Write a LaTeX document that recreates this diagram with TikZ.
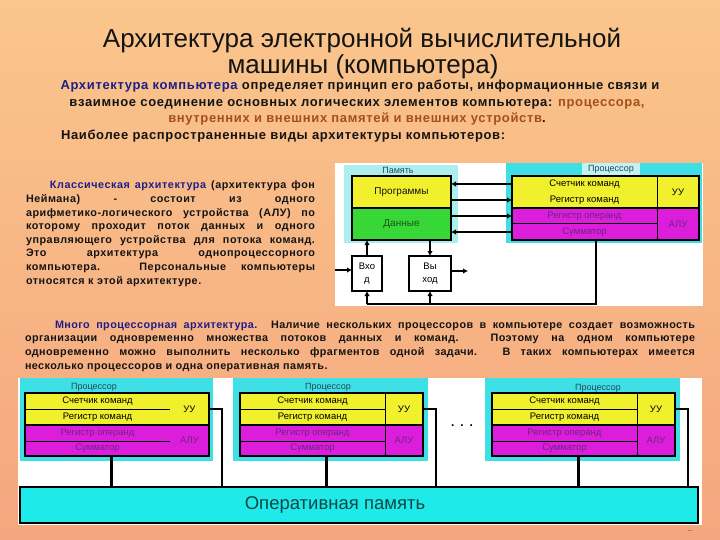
\documentclass[tikz,border=0pt]{standalone}
\usepackage{fontspec}
\setmainfont{Liberation Sans}
\usetikzlibrary{arrows.meta}
\definecolor{bgtop}{RGB}{250,198,140}
\definecolor{bgbot}{RGB}{245,166,126}
\definecolor{yellowC}{RGB}{240,240,45}
\definecolor{greenC}{RGB}{55,215,55}
\definecolor{magC}{RGB}{220,30,220}
\definecolor{cyanP}{RGB}{62,224,230}
\definecolor{cyanL}{RGB}{172,238,238}
\definecolor{cyanLbl}{RGB}{196,242,242}
\definecolor{busC}{RGB}{30,234,234}
\definecolor{purpT}{RGB}{105,40,125}
\definecolor{labelT}{RGB}{40,70,90}
\definecolor{blueT}{RGB}{30,30,135}
\definecolor{brownT}{RGB}{165,80,25}
\definecolor{darkT}{RGB}{20,20,20}
\definecolor{busT}{RGB}{16,70,70}
\definecolor{dataT}{RGB}{25,85,25}
\begin{document}
\begin{tikzpicture}[x=1pt,y=-1pt,
  every node/.style={inner sep=0pt, outer sep=0pt},
  cellbox/.style={anchor=north west, font=\fontsize{9.5}{11}\selectfont, text=black},
  ycell/.style={cellbox, fill=yellowC},
  mcell/.style={cellbox, fill=magC, text=purpT},
  frame/.style={anchor=north west, draw=black, line width=2.8pt},
  sframe/.style={anchor=north west, draw=black, line width=2.2pt},
  thinline/.style={line width=1pt},
  splitline/.style={line width=1.6pt},
  conn/.style={line width=2.2pt, draw=black},
  arrowend/.style={-{Latex[length=5pt,width=5.5pt]}},
  lbl/.style={font=\fontsize{9}{10}\selectfont, text=labelT},
  bodytext/.style={font=\bfseries\fontsize{10.8}{13.6}\selectfont\addfontfeatures{LetterSpace=5}, text=darkT},
  multitext/.style={font=\bfseries\fontsize{10.8}{13.7}\selectfont\addfontfeatures{LetterSpace=4}, text=darkT},
  subtext/.style={font=\bfseries\fontsize{13}{16}\selectfont\addfontfeatures{LetterSpace=5}, text=darkT},
  titletext/.style={font=\fontsize{26}{28}\selectfont, text=darkT}
]
\useasboundingbox (0,0) rectangle (720,540);
\shade[top color=bgtop, bottom color=bgbot] (0,0) rectangle (720,540);

% ---------- title and intro ----------
\node[anchor=base, titletext] (t1) at (362,48) {Архитектура электронной вычислительной};
\node[anchor=base, titletext] (t2) at (363,74) {машины (компьютера)};
\node[anchor=base, subtext] (s1) at (360,90) {\textcolor{blueT}{Архитектура компьютера} определяет принцип его работы, информационные связи и};
\node[anchor=base, subtext] (s2) at (357,107) {взаимное соединение основных логических элементов компьютера: \textcolor{brownT}{процессора,}};
\node[anchor=base, subtext] (s3) at (357,123) {\textcolor{brownT}{внутренних и внешних памятей и внешних устройств}.};
\node[anchor=base west, subtext] (s4) at (61,140) {Наиболее распространенные виды архитектуры компьютеров:};

% ---------- classic paragraph ----------
\node[anchor=base west, bodytext] (classic) at (26,189) {\parbox[t]{289pt}{\hyphenpenalty=10000\exhyphenpenalty=10000
\hspace*{24pt}\textcolor{blueT}{Классическая архитектура} (архитектура фон\linebreak
Неймана) - состоит из одного\linebreak
арифметико-логического устройства (АЛУ) по\linebreak
которому проходит поток данных и одного\linebreak
управляющего устройства для потока команд.\linebreak
Это архитектура однопроцессорного\linebreak
компьютера. Персональные компьютеры\linebreak
относятся к этой архитектуре.}};

% ---------- classic diagram ----------
\fill[white] (335,163) rectangle (703,306);
\fill[cyanL] (344,165) rectangle (458,243);
\fill[cyanP] (506,163) rectangle (702,243);
\node[lbl] (memlbl) at (398,170) {Память};
\node[lbl, fill=cyanLbl, minimum width=58pt, minimum height=13pt] (proclbl) at (611,169.5) {Процессор};

\node[cellbox, fill=yellowC, minimum width=99pt, minimum height=32pt, text=darkT, font=\fontsize{10}{12}\selectfont] (prog) at (352,176) {Программы};
\node[cellbox, fill=greenC, minimum width=99pt, minimum height=32pt, text=dataT, font=\fontsize{10}{12}\selectfont] (data) at (352,208) {Данные};
\draw[splitline] (prog.south west) -- (prog.south east);
\node[frame, minimum width=99pt, minimum height=64pt] (mem) at (352,176) {};

\node[ycell, minimum width=145pt, minimum height=16pt] (cnt) at (512,176) {Счетчик команд};
\node[ycell, minimum width=145pt, minimum height=16pt] (rk) at (512,192) {Регистр команд};
\node[mcell, minimum width=145pt, minimum height=16pt] (ro) at (512,208) {Регистр операнд};
\node[mcell, minimum width=145pt, minimum height=16pt] (sum) at (512,224) {Сумматор};
\node[ycell, minimum width=42pt, minimum height=32pt] (uu) at (657,176) {УУ};
\node[mcell, minimum width=42pt, minimum height=32pt] (alu) at (657,208) {АЛУ};
\draw[thinline] (ro.south west) -- (ro.south east);
\draw[thinline] (uu.north west) -- (alu.south west);
\draw[splitline] (rk.south west) -- (uu.south east);
\node[frame, minimum width=187pt, minimum height=64pt] (proc) at (512,176) {};

\draw[conn, arrowend] (cnt.west) -- (cnt.west -| mem.east);
\draw[conn, arrowend] (rk.west -| mem.east) -- (rk.west);
\draw[conn, arrowend] (ro.west -| mem.east) -- (ro.west);
\draw[conn, arrowend] (sum.west) -- (sum.west -| mem.east);

\node[sframe, fill=white, minimum width=30pt, minimum height=35pt, align=center, font=\fontsize{9.5}{13}\selectfont] (vhod) at (352,256) {Вхо\\д};
\node[sframe, fill=white, minimum width=42pt, minimum height=35pt, align=center, font=\fontsize{9.5}{13}\selectfont] (vyhod) at (409,256) {Вы\\ход};

\draw[conn, arrowend] (vhod.north) -- (vhod.north |- mem.south);
\draw[conn, arrowend] (vyhod.north |- mem.south) -- (vyhod.north);
\coordinate (inL) at (335,270);
\draw[conn, arrowend] (inL) -- (inL -| vhod.west);
\coordinate (outR) at (468,271);
\draw[conn, arrowend] (outR -| vyhod.east) -- (outR);
\coordinate (busA) at (596,304);
\draw[conn] (busA |- proc.south) -- (busA) -- (busA -| vhod.south);
\draw[conn, arrowend] (busA -| vhod.south) -- (vhod.south);
\draw[conn, arrowend] (busA -| vyhod.south) -- (vyhod.south);

% ---------- multiprocessor paragraph ----------
\node[anchor=base west, multitext] (multi) at (25,328) {\parbox[t]{670pt}{\hyphenpenalty=10000\exhyphenpenalty=10000
\hspace*{30pt}\textcolor{blueT}{Много процессорная архитектура.} Наличие нескольких процессоров в компьютере создает возможность\linebreak
организации одновременно множества потоков данных и команд. Поэтому на одном компьютере\linebreak
одновременно можно выполнить несколько фрагментов одной задачи. В таких компьютерах имеется\linebreak
несколько процессоров и одна оперативная память.}};

% ---------- multiprocessor diagram ----------
\fill[white] (18,378) rectangle (702,525);
\fill[cyanP] (20,378) rectangle (213,461);
\fill[cyanP] (233,378) rectangle (428,461);
\fill[cyanP] (485,378) rectangle (680,461);
\node[lbl] (pl1) at (94,387) {Процессор};
\node[lbl] (pl2) at (328,387) {Процессор};
\node[lbl] (pl3) at (598,388) {Процессор};

% processor 1
\node[ycell, minimum width=145pt, minimum height=16pt] (c1) at (25,393) {Счетчик команд};
\node[ycell, minimum width=145pt, minimum height=16pt] (r1) at (25,409) {Регистр команд};
\node[mcell, minimum width=145pt, minimum height=16pt] (o1) at (25,425) {Регистр операнд};
\node[mcell, minimum width=145pt, minimum height=15pt] (m1) at (25,441) {Сумматор};
\node[ycell, minimum width=39pt, minimum height=32pt] (u1) at (170,393) {УУ};
\node[mcell, minimum width=39pt, minimum height=31pt] (a1) at (170,425) {АЛУ};
\draw[thinline] (c1.south west) -- (c1.south east);
\draw[thinline] (o1.south west) -- (o1.south east);
\draw[splitline] (r1.south west) -- (u1.south east);
\node[sframe, minimum width=184pt, minimum height=63pt] (f1) at (25,393) {};

% processor 2
\node[ycell, minimum width=145pt, minimum height=16pt] (c2) at (240,393) {Счетчик команд};
\node[ycell, minimum width=145pt, minimum height=16pt] (r2) at (240,409) {Регистр команд};
\node[mcell, minimum width=145pt, minimum height=16pt] (o2) at (240,425) {Регистр операнд};
\node[mcell, minimum width=145pt, minimum height=15pt] (m2) at (240,441) {Сумматор};
\node[ycell, minimum width=38pt, minimum height=32pt] (u2) at (385,393) {УУ};
\node[mcell, minimum width=38pt, minimum height=31pt] (a2) at (385,425) {АЛУ};
\draw[thinline] (c2.south west) -- (c2.south east);
\draw[thinline] (o2.south west) -- (o2.south east);
\draw[thinline] (u2.north west) -- (a2.south west);
\draw[splitline] (r2.south west) -- (u2.south east);
\node[sframe, minimum width=183pt, minimum height=63pt] (f2) at (240,393) {};

% processor 3
\node[ycell, minimum width=145pt, minimum height=16pt] (c3) at (492,393) {Счетчик команд};
\node[ycell, minimum width=145pt, minimum height=16pt] (r3) at (492,409) {Регистр команд};
\node[mcell, minimum width=145pt, minimum height=16pt] (o3) at (492,425) {Регистр операнд};
\node[mcell, minimum width=145pt, minimum height=15pt] (m3) at (492,441) {Сумматор};
\node[ycell, minimum width=38pt, minimum height=32pt] (u3) at (637,393) {УУ};
\node[mcell, minimum width=38pt, minimum height=31pt] (a3) at (637,425) {АЛУ};
\draw[thinline] (c3.south west) -- (c3.south east);
\draw[thinline] (o3.south west) -- (o3.south east);
\draw[thinline] (u3.north west) -- (a3.south west);
\draw[splitline] (r3.south west) -- (u3.south east);
\node[sframe, minimum width=183pt, minimum height=63pt] (f3) at (492,393) {};

\node[font=\bfseries\fontsize{12}{12}\selectfont, anchor=base] (dots) at (462,426) {.\hspace{6pt}.\hspace{6pt}.};

% bus
\node[sframe, fill=busC, minimum width=678pt, minimum height=36pt] (bus) at (20,487) {};
\node[font=\fontsize{18.5}{20}\selectfont, text=busT] (buslbl) at (335,505) {Оперативная память};

\draw[conn] ([xshift=14pt]m1.south) -- ([xshift=14pt]m1.south |- bus.north);
\draw[conn] (u1.east) -| ([xshift=13pt]u1.east |- bus.north);
\draw[conn] ([xshift=14pt]m2.south) -- ([xshift=14pt]m2.south |- bus.north);
\draw[conn] (u2.east) -| ([xshift=13pt]u2.east |- bus.north);
\draw[conn] ([xshift=14pt]m3.south) -- ([xshift=14pt]m3.south |- bus.north);
\draw[conn] (u3.east) -| ([xshift=13pt]u3.east |- bus.north);

\node[font=\fontsize{6}{6}\selectfont, text=darkT] (more) at (690,531) {...};
\end{tikzpicture}
\end{document}
